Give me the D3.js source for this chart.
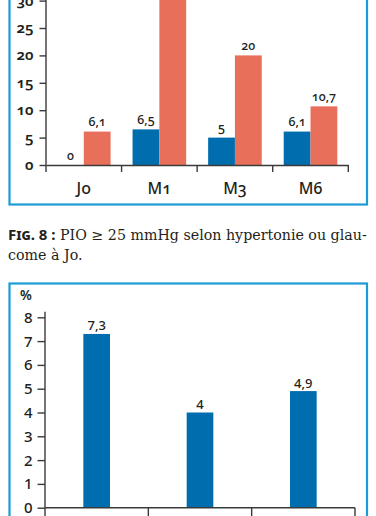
<!DOCTYPE html>
<html><head><meta charset="utf-8">
<script src="https://cdn.jsdelivr.net/npm/d3@7"></script>
<style>
html,body{margin:0;padding:0;background:#fff;}
svg{display:block;}
.sans{font-family:"Noto Sans","Open Sans",sans-serif;}
</style></head>
<body>
<script>
// ---- Data ----
const categoriesTop = ["Jo", "M1", "M3", "M6"];
const seriesKeys = ["blue", "orange"];
const valuesBlue = [0, 6.5, 5, 6.1];
const valuesOrange = [6.1, 36, 20, 10.7];
const ticksTop = [0, 5, 10, 15, 20, 25, 30];

const categoriesBottom = ["A", "B", "C"];
const valuesBottom = [7.3, 4, 4.9];
const ticksBottom = [0, 1, 2, 3, 4, 5, 6, 7, 8];

const captionBold = "Fig. 8 :";
const captionLine1 = " PIO ≥ 25 mmHg selon hypertonie ou glau-";
const captionLine2 = "come à Jo.";

// ---- Setup ----
const W = 376, H = 516;
const BLUE = "#006eae", ORANGE = "#e8705a", FRAME = "#1b9bd7", AXIS = "#3a3a3a", TXT = "#231f20";
const fr = d3.formatLocale({decimal: ",", thousands: " ", grouping: [3], currency: ["", ""]});
const fmt = v => fr.format("~g")(v);

const svg = d3.select("body").append("svg").attr("width", W).attr("height", H);

// frames
svg.append("rect").attr("x", 9.5).attr("y", -10).attr("width", 357.5).attr("height", 214.5)
  .attr("fill", "none").attr("stroke", FRAME).attr("stroke-width", 2.2);
svg.append("rect").attr("x", 9.5).attr("y", 283.5).attr("width", 357.5).attr("height", 260)
  .attr("fill", "none").attr("stroke", FRAME).attr("stroke-width", 2.2);

// ---- Top chart ----
const yT = d3.scaleLinear().domain([0, 30]).range([165, 0.6]);
const xT = d3.scaleBand().domain(categoriesTop).range([46, 348.3]).padding(0);
const xS = d3.scaleBand().domain(seriesKeys).range([0, xT.bandwidth()]).paddingInner(0).paddingOuter(0.41);

const gTop = svg.append("g");
const rows = categoriesTop.map((c, i) => ({c, blue: valuesBlue[i], orange: valuesOrange[i]}));
const grp = gTop.selectAll("g.cat").data(rows).join("g").attr("class", "cat").attr("transform", d => `translate(${xT(d.c)},0)`);
grp.selectAll("rect").data(d => seriesKeys.map(k => ({k, v: d[k]}))).join("rect")
  .attr("x", d => xS(d.k)).attr("width", xS.bandwidth())
  .attr("y", d => yT(d.v)).attr("height", d => yT(0) - yT(d.v))
  .attr("fill", d => d.k === "blue" ? BLUE : ORANGE);
// value labels (the one beyond the visible axis range lies outside the cropped view)
grp.selectAll("text").data(d => seriesKeys.map(k => ({k, v: d[k]})).filter(e => e.v <= yT.domain()[1])).join("text")
  .attr("class", "sans")
  .attr("x", d => xS(d.k) + xS.bandwidth() / 2).attr("y", d => yT(d.v) - 5.5)
  .attr("text-anchor", "middle").attr("font-size", 12.5).attr("font-weight", 500).attr("fill", TXT)
  .style("font-variant-numeric", "oldstyle-nums")
  .text(d => fmt(d.v));

const yAxT = gTop.append("g").attr("transform", "translate(46,0)")
  .call(d3.axisLeft(yT).tickValues(ticksTop).tickSize(6.5).tickSizeOuter(0).tickPadding(6).tickFormat(fmt));
yAxT.select(".domain").attr("d", `M0,${yT(0)}V-2`);
yAxT.selectAll("line,path").attr("stroke", AXIS).attr("stroke-width", 1.4);
yAxT.selectAll("text").attr("class", "sans").attr("font-size", 15).attr("font-weight", 600).attr("fill", TXT)
  .style("font-variant-numeric", "oldstyle-nums").attr("dy", "0.3em");

const xAxT = gTop.append("g").attr("transform", `translate(0,${yT(0)})`)
  .call(d3.axisBottom(xT).tickSize(0).tickSizeOuter(0).tickPadding(18));
xAxT.selectAll("path").attr("stroke", AXIS).attr("stroke-width", 1.4);
xAxT.selectAll("text").attr("class", "sans").attr("font-size", 16).attr("font-weight", 500).attr("fill", TXT)
  .style("font-variant-numeric", "oldstyle-nums");
const bT = categoriesTop.map(c => xT(c)).concat([xT(categoriesTop[categoriesTop.length - 1]) + xT.bandwidth()]);
xAxT.selectAll("line.bnd").data(bT).join("line").attr("class", "bnd")
  .attr("x1", d => d).attr("x2", d => d).attr("y1", 0).attr("y2", 7)
  .attr("stroke", AXIS).attr("stroke-width", 1.4);

// ---- Caption ----
const cap = svg.append("text").attr("x", 8).attr("y", 240).attr("fill", TXT);
const t1 = cap.append("tspan").attr("font-family", "'Noto Sans', sans-serif").attr("font-weight", 700)
  .attr("font-size", 15).style("font-variant", "small-caps").text(captionBold);
const t2 = cap.append("tspan").attr("font-family", "'DejaVu Serif', serif").attr("font-size", 14).text(captionLine1);
// fit first line to the frame width
const target = 359;
const w1 = t1.node().getComputedTextLength();
const w2 = t2.node().getComputedTextLength();
const fs = 14 * (target - w1) / w2;
t2.attr("font-size", fs);
svg.append("text").attr("x", 8).attr("y", 260).attr("fill", TXT)
  .attr("font-family", "'DejaVu Serif', serif").attr("font-size", fs).text(captionLine2);

// ---- Bottom chart ----
const yB = d3.scaleLinear().domain([0, 8]).range([507.7, 317.3]);
const xB = d3.scaleBand().domain(categoriesBottom).range([45, 355]).paddingInner(0.742).paddingOuter(0.371);
const xBt = d3.scaleBand().domain(categoriesBottom).range([45, 355]).padding(0);
const bot = svg.append("g");
bot.selectAll("rect").data(valuesBottom).join("rect")
  .attr("x", (d, i) => xB(categoriesBottom[i])).attr("width", xB.bandwidth())
  .attr("y", d => yB(d)).attr("height", d => yB(0) - yB(d)).attr("fill", BLUE);
bot.selectAll("text.val").data(valuesBottom).join("text").attr("class", "val sans")
  .attr("x", (d, i) => xB(categoriesBottom[i]) + xB.bandwidth() / 2).attr("y", d => yB(d) - 3.5)
  .attr("text-anchor", "middle").attr("font-size", 13).attr("font-weight", 500).attr("fill", TXT).text(d => fmt(d));

const yAxB = bot.append("g").attr("transform", "translate(45,0)")
  .call(d3.axisLeft(yB).tickValues(ticksBottom).tickSize(7.5).tickSizeOuter(0).tickPadding(5).tickFormat(fmt));
yAxB.select(".domain").attr("d", `M0,${yB(0)}V311.7`);
yAxB.selectAll("line,path").attr("stroke", AXIS).attr("stroke-width", 1.4);
yAxB.selectAll("text").attr("class", "sans").attr("font-size", 15).attr("font-weight", 500).attr("fill", TXT).attr("dy", "0.33em");
bot.append("text").attr("class", "sans").attr("x", 20).attr("y", 300).attr("font-size", 13.5)
  .attr("font-weight", 600).attr("fill", TXT).text("%");

const xAxB = bot.append("g").attr("transform", `translate(0,${yB(0)})`);
xAxB.append("path").attr("d", `M${xBt.range()[0]},0H${xBt.range()[1]}`).attr("stroke", AXIS).attr("stroke-width", 1.4);
const bB = categoriesBottom.map(c => xBt(c)).concat([xBt.range()[1]]);
xAxB.selectAll("line").data(bB).join("line")
  .attr("x1", d => d).attr("x2", d => d).attr("y1", 0).attr("y2", 10)
  .attr("stroke", AXIS).attr("stroke-width", 1.4);
</script>
</body></html>
